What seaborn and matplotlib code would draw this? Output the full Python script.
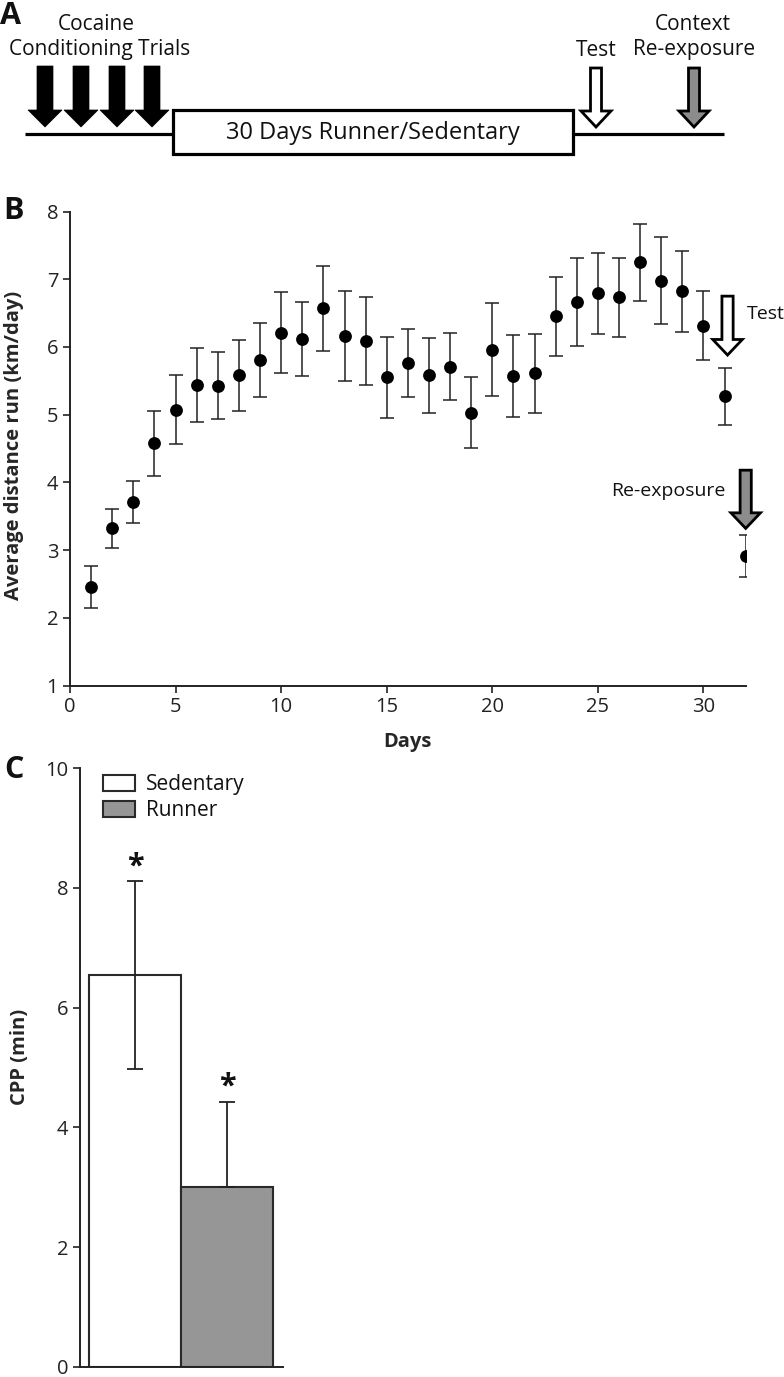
import numpy as np
import pandas as pd
import matplotlib
matplotlib.use('Agg')
import matplotlib.pyplot as plt
from matplotlib import font_manager
from matplotlib.patches import FancyArrow, Rectangle, Patch
import seaborn as sns

# panel B: running distance per day (mean +/- sem)
days = [1, 2, 3, 4, 5, 6, 7, 8, 9, 10, 11, 12, 13, 14, 15, 16,
        17, 18, 19, 20, 21, 22, 23, 24, 25, 26, 27, 28, 29, 30, 31, 32]
dist_mean = [2.45, 3.32, 3.71, 4.58, 5.07, 5.44, 5.43, 5.58, 5.81, 6.21, 6.12, 6.57,
             6.16, 6.09, 5.55, 5.76, 5.58, 5.71, 5.03, 5.96, 5.57, 5.61, 6.45, 6.67,
             6.79, 6.73, 7.25, 6.98, 6.82, 6.31, 5.27, 2.91]
dist_sem = [0.31, 0.29, 0.31, 0.48, 0.51, 0.55, 0.49, 0.52, 0.55, 0.60, 0.55, 0.63,
            0.66, 0.65, 0.60, 0.50, 0.55, 0.49, 0.52, 0.69, 0.60, 0.58, 0.58, 0.65,
            0.60, 0.58, 0.57, 0.645, 0.60, 0.51, 0.42, 0.31]

# panel C: CPP score
groups = ['Sedentary', 'Runner']
cpp_mean = [6.55, 3.01]
cpp_err_low = [1.57, 0.0]
cpp_err_high = [1.56, 1.42]
bar_colors = ['white', '#969696']

sns.set_style('ticks')
names = {f.name for f in font_manager.fontManager.ttflist}
base = 'Open Sans' if 'Open Sans' in names else 'DejaVu Sans'
narrow = 'Liberation Sans Narrow' if 'Liberation Sans Narrow' in names else base
plt.rcParams['font.family'] = [base, 'DejaVu Sans']
plt.rcParams['axes.edgecolor'] = '#222222'
plt.rcParams['xtick.color'] = '#222222'
plt.rcParams['ytick.color'] = '#222222'
plt.rcParams['text.color'] = '#111111'

W, H = 784, 1377
fig = plt.figure(figsize=(W / 100, H / 100), dpi=100)

def px_axes(left, top, right, bottom):
    return fig.add_axes([left / W, 1 - bottom / H, (right - left) / W, (bottom - top) / H])

# ---------------- panel A: schematic ----------------
axA = px_axes(0, 0, W, 190)
axA.set_xlim(0, W)
axA.set_ylim(190, 0)
axA.axis('off')
axA.plot([25, 724], [134, 134], color='black', lw=2.3, solid_capstyle='butt', zorder=1)
axA.add_patch(Rectangle((173, 110), 400, 44, fc='white', ec='black', lw=2.3, zorder=2))
axA.text(373, 133, '30 Days Runner/Sedentary', ha='center', va='center', fontsize=17)
for x in [45, 81, 117, 152]:
    axA.add_patch(FancyArrow(x, 66, 0, 61, width=16, head_width=34, head_length=17,
                             length_includes_head=True, fc='black', ec='black', lw=0.5))
axA.add_patch(FancyArrow(596, 68, 0, 59, width=11, head_width=30, head_length=16,
                         length_includes_head=True, fc='white', ec='black', lw=2))
axA.add_patch(FancyArrow(694, 68, 0, 59, width=11, head_width=30, head_length=16,
                         length_includes_head=True, fc='#8c8c8c', ec='black', lw=2))
axA.text(96, 25, 'Cocaine', ha='center', va='center', fontsize=15)
axA.text(100, 50, 'Conditioning Trials', ha='center', va='center', fontsize=15)
axA.text(596, 50, 'Test', ha='center', va='center', fontsize=15)
axA.text(693, 25, 'Context', ha='center', va='center', fontsize=15)
axA.text(694, 50, 'Re-exposure', ha='center', va='center', fontsize=15)

# ---------------- panel B: distance run ----------------
axB = px_axes(70, 211.5, 745.7, 685.5)
axB.errorbar(days, dist_mean, yerr=dist_sem, fmt='none', ecolor='#222222',
             elinewidth=1.1, capsize=5, capthick=1.1, zorder=2)
sns.scatterplot(x=days, y=dist_mean, ax=axB, color='black', s=85, edgecolor='black',
                linewidth=0, zorder=3)
axB.set_xlim(0, 32)
axB.set_ylim(1, 8)
axB.set_xticks([0, 5, 10, 15, 20, 25, 30])
axB.set_yticks([1, 2, 3, 4, 5, 6, 7, 8])
axB.tick_params(labelsize=14.5, length=5, width=1.2)
sns.despine(ax=axB)
for s in ['left', 'bottom']:
    axB.spines[s].set_linewidth(1.4)
axB.set_xlabel('Days', fontsize=14.5, fontweight='bold')
axB.xaxis.set_label_coords(0.499, -0.119)
axB.xaxis.label.set_va('center')
axB.set_ylabel('Average distance run (km/day)', fontsize=14.5, fontweight='bold')
axB.yaxis.set_label_coords(-0.083, 0.506)
axB.yaxis.label.set_va('center')
axB.add_patch(FancyArrow(31.14, 6.75, 0, -0.87, width=0.53, head_width=1.4, head_length=0.23,
                         length_includes_head=True, fc='white', ec='black', lw=2, clip_on=False))
axB.add_patch(FancyArrow(32.0, 4.18, 0, -0.86, width=0.53, head_width=1.4, head_length=0.23,
                         length_includes_head=True, fc='#8c8c8c', ec='black', lw=2, clip_on=False))
axB.text(32.05, 6.48, 'Test', ha='left', va='center', fontsize=14, clip_on=False)
axB.text(31.06, 3.87, 'Re-exposure', ha='right', va='center', fontsize=14)

# ---------------- panel C: CPP ----------------
axC = px_axes(80, 768, 283, 1367)
df = pd.DataFrame({'group': groups, 'cpp': cpp_mean})
sns.barplot(data=df, x='group', y='cpp', hue='group', palette=bar_colors, width=1.0,
            edgecolor='#2a2a2a', linewidth=1.5, legend=False, ax=axC, zorder=1)
axC.errorbar([0, 1], cpp_mean, yerr=[cpp_err_low, cpp_err_high], fmt='none',
             ecolor='#222222', elinewidth=1.3, capsize=5.6, capthick=1.3, zorder=3)
for i, (m, e) in enumerate(zip(cpp_mean, cpp_err_high)):
    axC.text(i, m + e, '*', ha='center', va='bottom', fontsize=22, fontweight='bold')
axC.set_xlim(-0.6, 1.61)
axC.set_ylim(0, 10)
axC.set_yticks([0, 2, 4, 6, 8, 10])
axC.set_xticks([])
axC.set_xlabel('')
axC.tick_params(labelsize=14.5, length=5, width=1.2)
sns.despine(ax=axC)
for s in ['left', 'bottom']:
    axC.spines[s].set_linewidth(1.4)
axC.set_ylabel('CPP (min)', fontsize=14.5, fontweight='bold')
axC.yaxis.set_label_coords(-0.296, 0.517)
axC.yaxis.label.set_va('center')
handles = [Patch(fc=c, ec='#2a2a2a', lw=1.5) for c in bar_colors]
axC.legend(handles, groups, loc='upper left', bbox_to_anchor=(0.113, 0.99), frameon=False,
           fontsize=15, handlelength=1.55, handleheight=0.82, handletextpad=0.5,
           labelspacing=0.25, borderpad=0, borderaxespad=0)

# panel letters
for lbl, x, y in [('A', 11, 16), ('B', 13, 211), ('C', 14, 770)]:
    fig.text(x / W, 1 - y / H, lbl, ha='center', va='center', fontsize=22,
             fontweight='bold', family=[narrow, 'DejaVu Sans'])

fig.savefig('out.png', dpi=100)
